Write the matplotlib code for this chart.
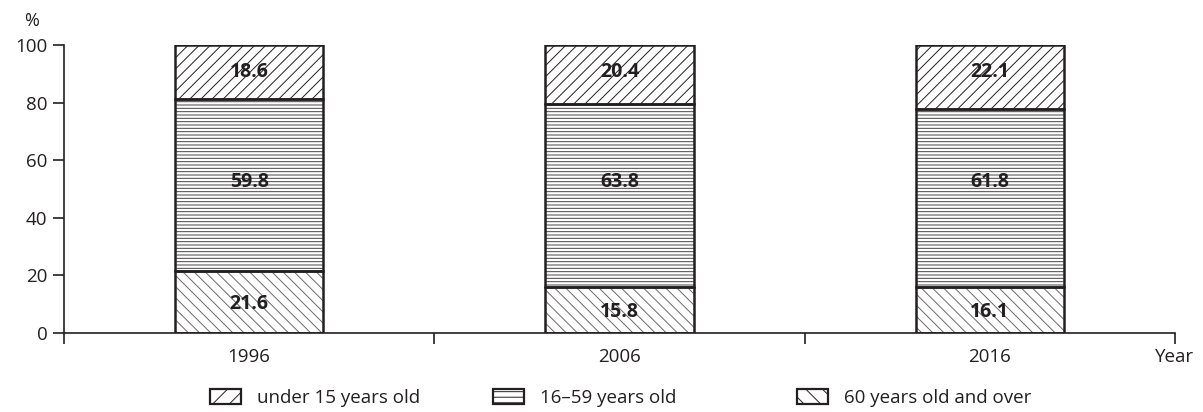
import matplotlib
matplotlib.use("Agg")
import matplotlib.pyplot as plt
from matplotlib.patches import Patch

plt.rcParams['font.family'] = ['Open Sans', 'DejaVu Sans']
plt.rcParams['hatch.linewidth'] = 0.7

years = ['1996', '2006', '2016']
old = [21.6, 15.8, 16.1]       # 60 years old and over
mid = [59.8, 63.8, 61.8]       # 16-59 years old
young = [18.6, 20.4, 22.1]     # under 15 years old
labels = ['under 15 years old', '16\u201359 years old', '60 years old and over']

ink = '#231f20'
dot = '#6a6a6a'
pos = [0.5, 1.5, 2.5]
w = 0.4
lw = 1.8

fig = plt.figure(figsize=(12.03, 4.12), dpi=100)
ax = fig.add_axes([64 / 1203, 1 - 333 / 412, (1175 - 64) / 1203, (333 - 45) / 412])

bottom_mid = old
bottom_top = [a + b for a, b in zip(old, mid)]

# hatch layers (grey thin hatch gives the dotted look of the bottom one)
ax.bar(pos, old, w, color='white', edgecolor=dot, hatch='\\\\\\', linewidth=0)
ax.bar(pos, mid, w, bottom=bottom_mid, color='white', edgecolor='#444444', hatch='-----', linewidth=0)
ax.bar(pos, young, w, bottom=bottom_top, color='white', edgecolor=ink, hatch='///', linewidth=0)
# outlines
for vals, bot in [(old, None), (mid, bottom_mid), (young, bottom_top)]:
    ax.bar(pos, vals, w, bottom=bot, fill=False, edgecolor=ink, linewidth=lw)

# value labels: bottom one centred in its block, the others at fixed heights
for x, a, b, c in zip(pos, old, mid, young):
    kw = dict(ha='center', va='center', fontsize=14, fontweight='bold', color=ink)
    ax.text(x, a / 2 - 0.6, f'{a:.1f}', **kw)
    ax.text(x, 52.4, f'{b:.1f}', **kw)
    ax.text(x, 90.6, f'{c:.1f}', **kw)

ax.set_xlim(0, 3)
ax.set_ylim(0, 100)
ax.set_yticks([0, 20, 40, 60, 80, 100])
ax.set_xticks([0, 1, 2, 3])
ax.set_xticklabels(['', '', '', 'Year'])
ax.set_xticks(pos, minor=True)
ax.set_xticklabels(years, minor=True)
ax.tick_params(axis='x', which='minor', length=0, pad=11, labelsize=13.5, labelcolor=ink)
ax.tick_params(axis='x', which='major', length=8, width=1.2, color=ink, pad=3, labelsize=13.5, labelcolor=ink)
ax.tick_params(axis='y', length=8, width=1.2, color=ink, pad=4, labelsize=13.5, labelcolor=ink)
for s in ['top', 'right']:
    ax.spines[s].set_visible(False)
for s in ['left', 'bottom']:
    ax.spines[s].set_color(ink)
    ax.spines[s].set_linewidth(1.2)

ax.annotate('%', xy=(0, 1), xycoords='axes fraction', xytext=(-23, 17),
            textcoords='offset points', ha='center', va='center', fontsize=13, color=ink)

hatches = ['//', '---', '\\\\']
xs = [210, 493, 797]
for lab, h, x in zip(labels, hatches, xs):
    handle = Patch(facecolor='white', edgecolor=ink, hatch=h, linewidth=1.6)
    leg = fig.legend([handle], [lab], loc='center left', bbox_to_anchor=(x / 1203, 1 - 398 / 412),
                     frameon=False, fontsize=13.5, handlelength=1.65, handleheight=0.85,
                     handletextpad=0.85, borderpad=0, borderaxespad=0)
    for t in leg.get_texts():
        t.set_color(ink)

fig.savefig('out.png', dpi=100)
